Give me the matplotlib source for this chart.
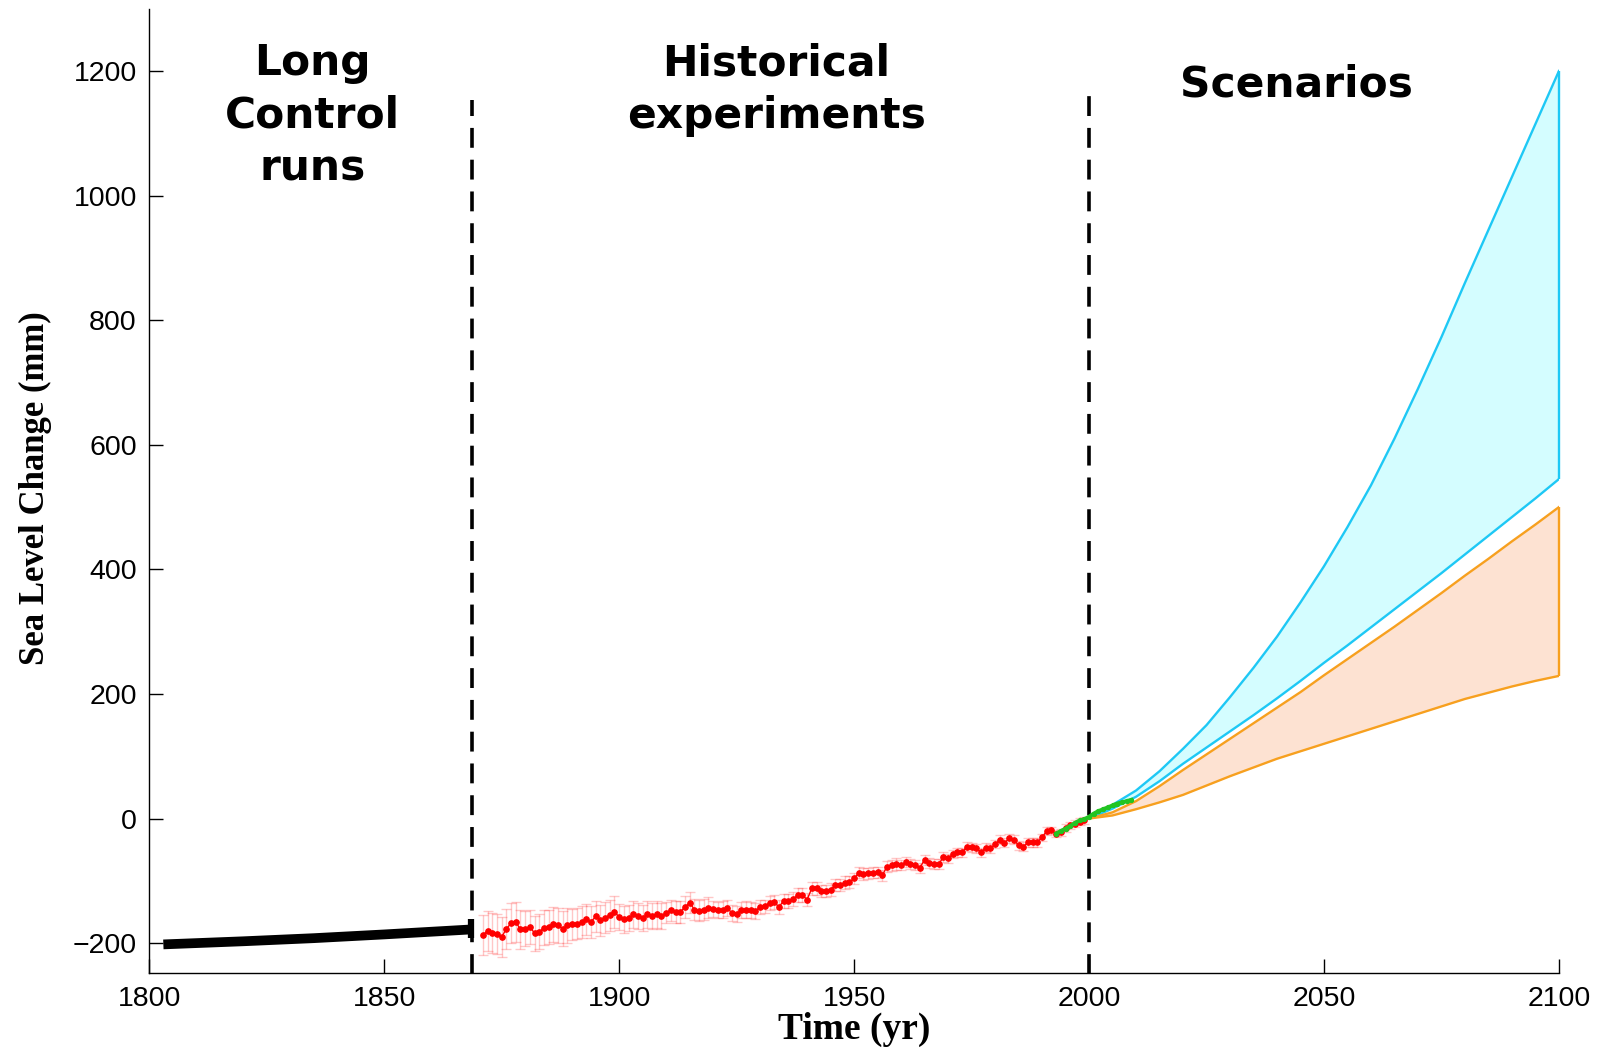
import numpy as np
import matplotlib.pyplot as plt

# long control run (thick black band)
ctrl_years = [1803, 1820, 1835, 1850, 1868.5]
ctrl_vals = [-202, -197, -192, -186, -178]

# historical reconstruction, annual values (red)
hist_years = list(range(1871, 2000))
hist_vals = [-187, -180, -184, -186, -190, -177, -168, -166, -178,
             -177, -174, -184, -182, -175, -174, -170, -171, -177, -171,
             -170, -169, -166, -162, -166, -157, -163, -159, -155, -150,
             -158, -162, -160, -154, -157, -159, -154, -157, -154, -157,
             -151, -147, -150, -150, -142, -135, -146, -148, -146, -143,
             -145, -147, -146, -143, -152, -153, -147, -146, -147, -148,
             -142, -141, -135, -134, -142, -132, -132, -129, -123, -123,
             -130, -112, -112, -116, -116, -114, -107, -107, -103, -102,
             -96, -87, -89, -88, -87, -86, -91, -77, -75, -73,
             -75, -70, -73, -75, -79, -66, -72, -73, -73, -62,
             -64, -57, -54, -54, -45, -46, -48, -54, -47, -48,
             -41, -34, -39, -32, -34, -43, -45, -38, -38, -38,
             -30, -20, -19, -24, -22, -15, -11, -8, -5, -3]
# error bar half-widths per decade (1871-79, 1880s, ... 1990s)
hist_err_decade = [32, 28, 25, 21, 17, 13, 11, 10, 9, 8, 7, 7, 6]
hist_err_count = [9] + [10] * 12

# satellite altimetry (green)
sat_years = list(range(1993, 2010))
sat_vals = [-24, -20, -16, -12, -7, -3, -1, 3, 8, 12, 15, 18, 21, 24, 26, 28, 30]

# scenario envelopes, every 5 years
scen_years = list(range(2000, 2101, 5))
hi_upper = [0, 22, 45, 76, 112, 150, 195, 242, 292, 347, 405,
            468, 535, 610, 690, 773, 860, 945, 1030, 1115, 1200]
hi_lower = [0, 16, 35, 60, 88, 114, 140, 166, 193, 221, 250,
            278, 307, 336, 365, 394, 424, 454, 484, 514, 545]
lo_upper = [0, 10, 28, 52, 78, 103, 128, 153, 178, 203, 230,
            256, 282, 308, 335, 362, 390, 417, 445, 472, 500]
lo_lower = [0, 5, 15, 26, 38, 53, 68, 82, 96, 108, 120,
            132, 144, 156, 168, 180, 192, 202, 212, 221, 229]

period_labels = ["Long\nControl\nruns", "Historical\nexperiments", "Scenarios"]
period_x = [1834.8, 1933.4, 2044.2]
period_y = [1128, 1170, 1179]

cyan = '#1ec8f5'
orange = '#f7a01f'

fig = plt.figure(figsize=(16.05, 10.49), dpi=100)
ax = fig.add_axes([0.0930, 0.0724, 0.8783, 0.9187])

ax.fill_between(scen_years, hi_lower, hi_upper, color='#d4fdff', lw=0)
ax.fill_between(scen_years, lo_lower, lo_upper, color='#fde2d2', lw=0)
ax.plot(scen_years, hi_upper, color=cyan, lw=1.7)
ax.plot(scen_years, hi_lower, color=cyan, lw=1.7)
ax.plot(scen_years, lo_upper, color=orange, lw=1.7)
ax.plot(scen_years, lo_lower, color=orange, lw=1.7)
ax.vlines(scen_years[-1], hi_lower[-1], hi_upper[-1], color=cyan, lw=1.7, clip_on=False)
ax.vlines(scen_years[-1], lo_lower[-1], lo_upper[-1], color=orange, lw=1.7, clip_on=False)

# control run
ax.plot(ctrl_years, ctrl_vals, color='black', lw=7, solid_capstyle='butt')
ax.vlines(ctrl_years[-1], -191, -161, color='black', lw=4.5)

# historical
hist_err = np.repeat(hist_err_decade, hist_err_count)
ax.errorbar(hist_years, hist_vals, yerr=hist_err, fmt='none', ecolor='red',
            alpha=0.22, elinewidth=1, capsize=3.5, capthick=1)
ax.plot(hist_years, hist_vals, color='red', lw=1.0, marker='o', ms=3.8)

ax.plot(sat_years, sat_vals, color='#22c422', lw=2.8, marker='o', ms=2.8, zorder=5)

# period dividers
ax.vlines(1868.7, -250, 1154, colors='black', lw=2.6, linestyles=(0, (5.5, 3.3)))
ax.vlines(2000, -250, 1178, colors='black', lw=2.6, linestyles=(0, (5.5, 3.3)))

for lab, x, y in zip(period_labels, period_x, period_y):
    ax.text(x, y, lab, ha='center', va='center', fontsize=30.5,
            fontweight='bold', family='DejaVu Sans', linespacing=1.33)

ax.set_xlim(1800, 2100)
ax.set_ylim(-248, 1299)
ax.set_xticks([1800, 1850, 1900, 1950, 2000, 2050, 2100])
ax.set_yticks([-200, 0, 200, 400, 600, 800, 1000, 1200])
ax.tick_params(direction='in', length=10, width=1, labelsize=20.5, pad=9)
for lab in ax.get_xticklabels() + ax.get_yticklabels():
    lab.set_family('Liberation Sans')

ax.spines['top'].set_visible(False)
ax.spines['right'].set_visible(False)
for s in ['left', 'bottom']:
    ax.spines[s].set_linewidth(1.0)

ax.set_xlabel('Time (yr)', fontsize=27, fontweight='bold', family='Liberation Serif')
ax.set_ylabel('Sea Level Change (mm)', fontsize=25, fontweight='bold', family='Liberation Serif')
ax.xaxis.set_label_coords(0.5, -0.040)
ax.yaxis.set_label_coords(-0.069, 0.503)

fig.savefig('out.png', dpi=100)
